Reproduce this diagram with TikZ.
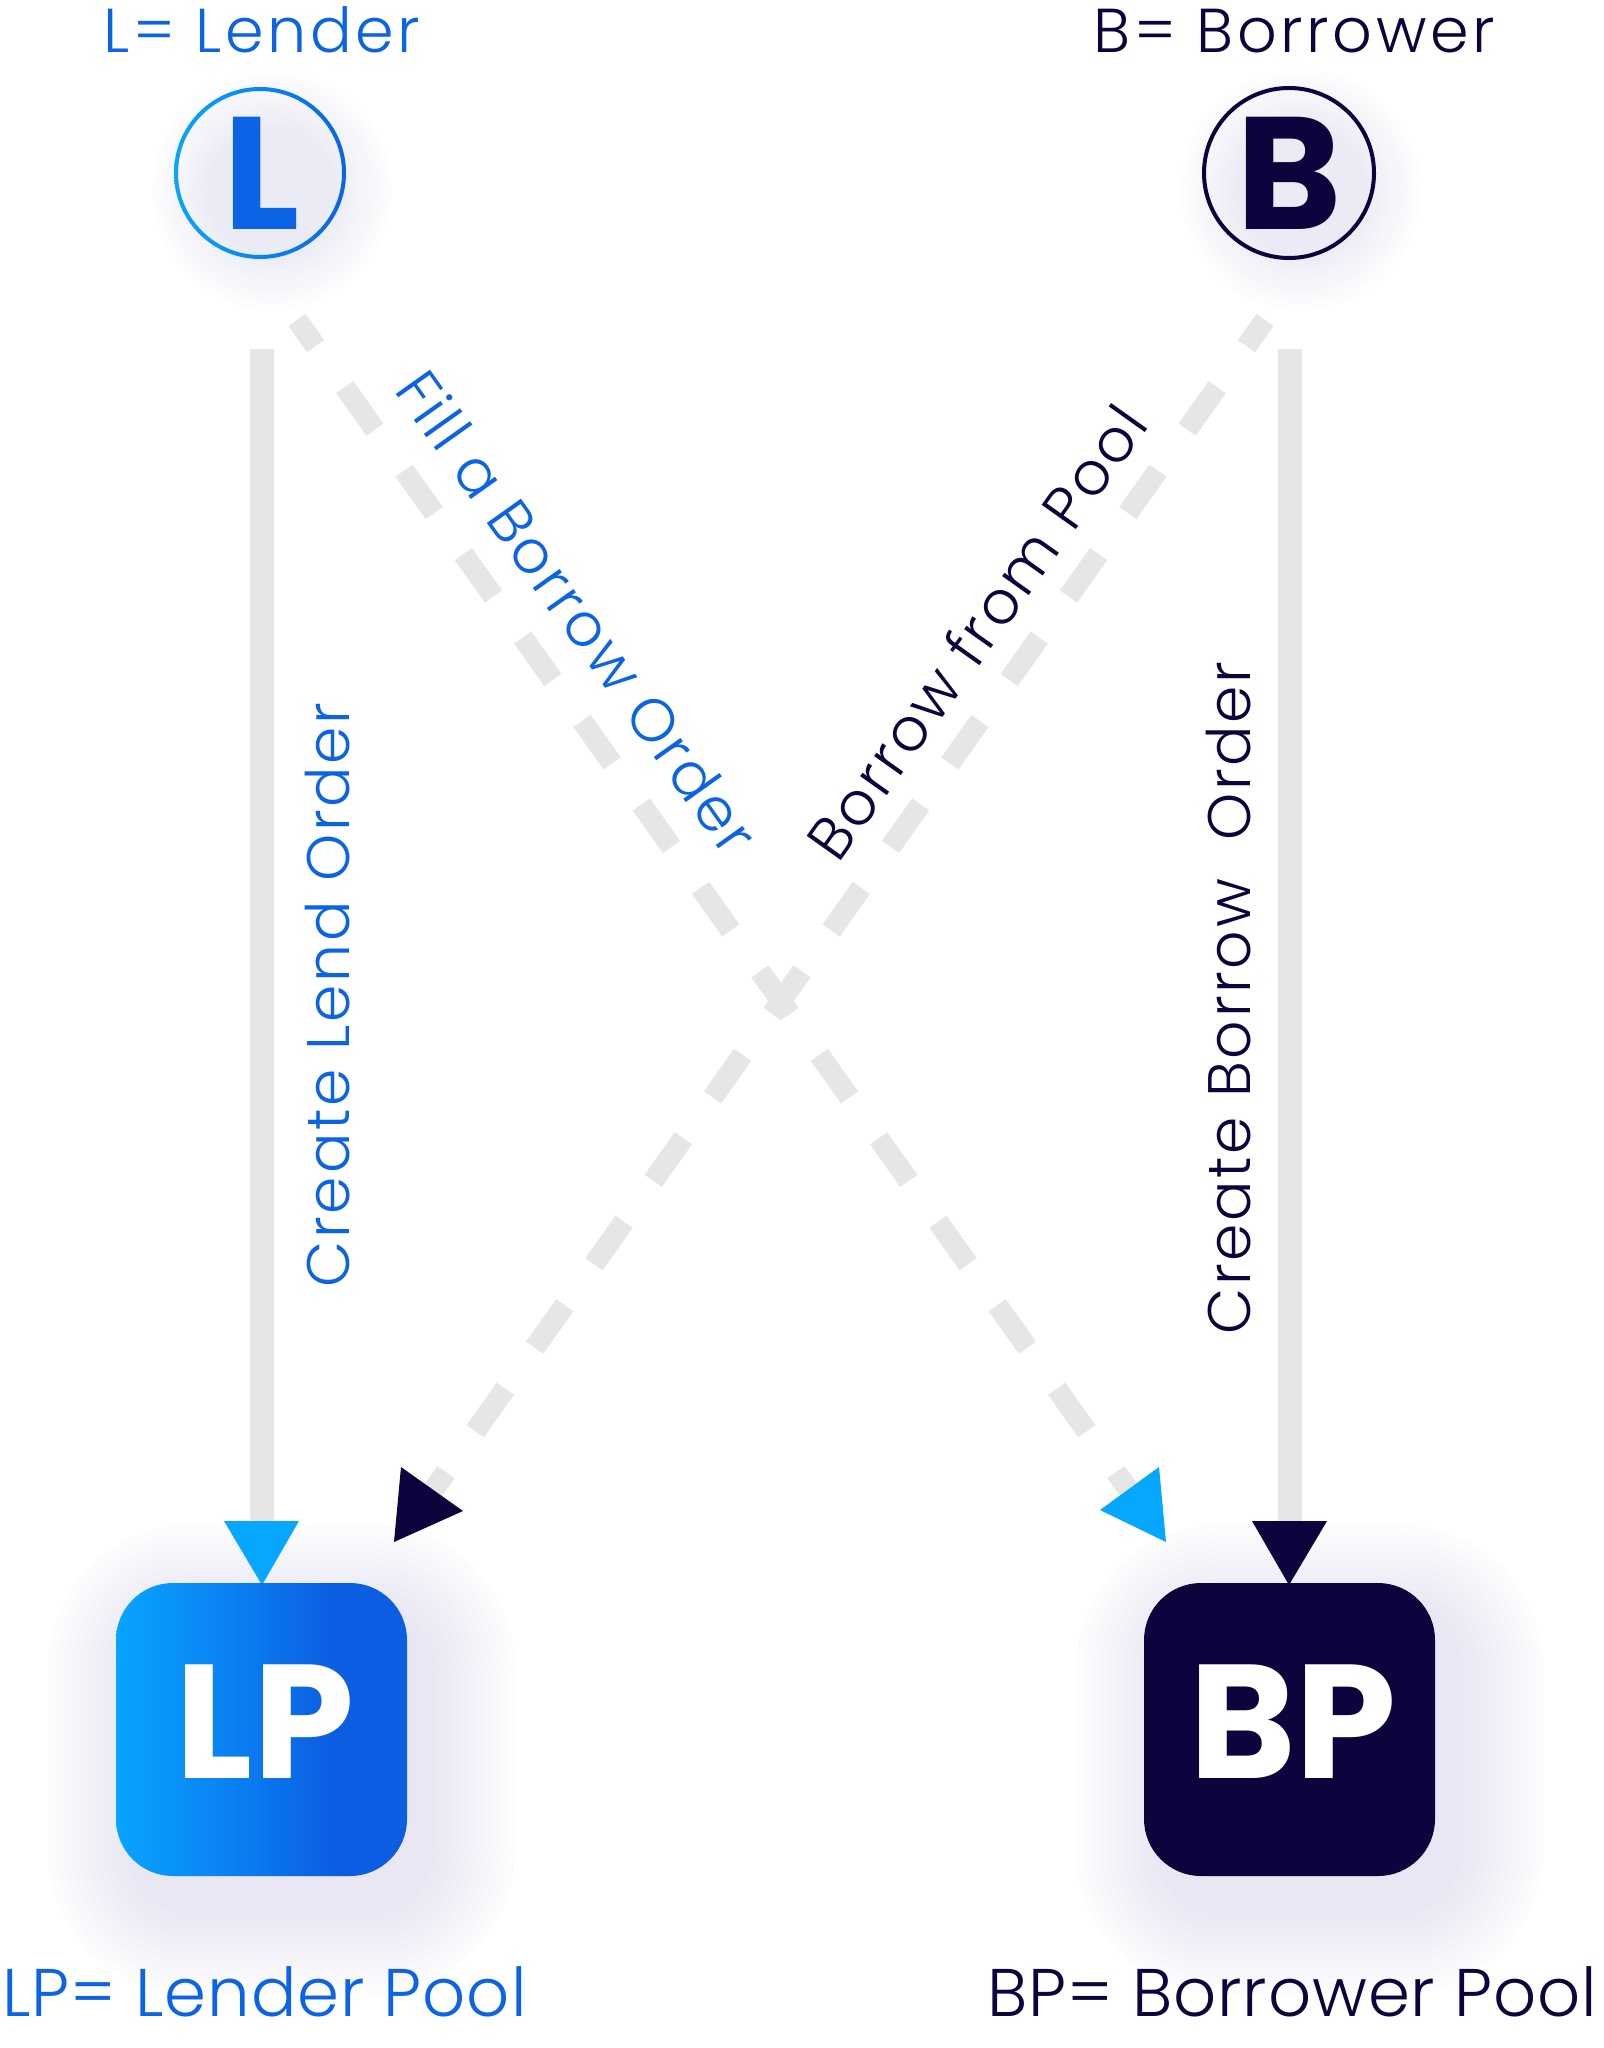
\documentclass[tikz,border=0pt]{standalone}
\usepackage{fontspec}
\setmainfont{Poppins}
\newfontfamily\poplight{Poppins Light}
\usetikzlibrary{calc}
\definecolor{blueT}{RGB}{11,99,229}
\definecolor{lightB}{RGB}{7,166,255}
\definecolor{navy}{RGB}{13,3,61}
\definecolor{greyL}{RGB}{230,230,230}
\definecolor{glowc}{RGB}{190,186,222}
\definecolor{lpA}{RGB}{8,164,255}
\definecolor{lpM}{RGB}{10,128,242}
\definecolor{lpB}{RGB}{11,94,226}
\pgfdeclarehorizontalshading{lpgrad}{100bp}{color(0bp)=(lpA); color(25bp)=(lpA); color(45bp)=(lpM); color(62bp)=(lpB); color(100bp)=(lpB)}
\newcommand\myfs[1]{\fontsize{#1}{#1}\selectfont}
\newcommand\spaced{\addfontfeatures{LetterSpace=4.5}}
\newcommand\spacedtop{\addfontfeatures{LetterSpace=5.8}}
\newcommand\spacedbot{\addfontfeatures{LetterSpace=1.3}}
\begin{document}
\begin{tikzpicture}[x=0.5pt,y=-0.5pt,
  vline/.style={draw=greyL, line width=12pt},
  dline/.style={draw=greyL, line width=10.5pt, dash pattern=on 26pt off 25.2pt, dash phase=10pt},
  lbl/.style={inner sep=0pt, font=\poplight\myfs{30}\spaced},
  legend/.style={inner sep=0pt, anchor=base west},
  pool/.style={minimum width=145.5pt, minimum height=146.5pt, rounded corners=28.5pt, inner sep=0pt},
  ring/.style={circle, minimum size=85pt, inner sep=0pt, font=\myfs{80}\bfseries}
]
\useasboundingbox (0,0) rectangle (1604,2048);
\fill[white] (0,0) rectangle (1604,2048);

% glows
\foreach \i in {1,...,10}{
  \fill[glowc, opacity=0.025] (272,190) circle ({60+6*\i});
  \fill[glowc, opacity=0.025] (1301,190) circle ({60+6*\i});
}
\foreach \i in {1,...,11}{
  \fill[glowc, opacity=0.03, rounded corners={(28+4*\i)*1pt}] ({136-8*\i},{1613-8*\i}) rectangle ({427+8*\i},{1906+8*\i});
  \fill[glowc, opacity=0.03, rounded corners={(28+4*\i)*1pt}] ({1164-8*\i},{1613-8*\i}) rectangle ({1455+8*\i},{1906+8*\i});
}

% legends
\node[legend, text=blueT, font=\poplight\myfs{31}\spacedtop] (tL) at (103,53) {L= Lender};
\node[legend, text=navy, font=\poplight\myfs{31}\spacedtop] (tB) at (1093,53) {B= Borrower};
\node[legend, text=blueT, font=\poplight\myfs{33.7}\spacedbot] (tLP) at (2,2016) {LP= Lender Pool};
\node[legend, text=navy, font=\poplight\myfs{33.7}\spacedbot] (tBP) at (987,2016) {BP= Borrower Pool};

% connector ends
\coordinate (Ltop) at (262,349);  \coordinate (Lend) at (262,1522);
\coordinate (Btop) at (1290,349); \coordinate (Bend) at (1290,1522);
\coordinate (Fs) at (297,320);    \coordinate (Fe) at (1130,1492);
\coordinate (Gs) at (1265,320);   \coordinate (Ge) at (432,1492);

% connectors
\draw[vline] (Ltop) -- (Lend);
\draw[vline] (Btop) -- (Bend);
\draw[dline] (Fs) -- (Fe);
\draw[dline] (Gs) -- (Ge);

% arrowheads
\fill[lightB] (224,1521) -- (299,1521) -- (262,1585) -- cycle;
\fill[navy] (1252,1521) -- (1327,1521) -- (1289,1585) -- cycle;
\fill[navy] (401,1467) -- (463,1511) -- (394,1542) -- cycle;
\fill[lightB] (1159,1467) -- (1100,1510) -- (1166,1542) -- cycle;

% pools
\node[pool, shading=lpgrad, shade] (LP) at (261.5,1729.5) {};
\node[pool, fill=navy] (BP) at (1289.5,1729.5) {};
\node[inner sep=0pt, anchor=base, text=white, font=\myfs{81}\bfseries] (LPt) at (265,1778) {LP};
\node[inner sep=0pt, anchor=base, text=white, font=\myfs{81}\bfseries] (BPt) at (1293,1778) {BP};

% circles
\shade[left color=lightB, right color=blueT, even odd rule] (260,173) circle (86) (260,173) circle (82);
\node[ring, text=blueT] (L) at (262,173) {L};
\node[ring, draw=navy, line width=2pt, text=navy] (B) at (1289,173) {B};

% labels
\node[lbl, text=blueT, rotate=90, anchor=base] (cl) at (349,995) {Create Lend Order};
\node[lbl, text=navy, rotate=90, anchor=base] (cb) at (1250,998) {Create Borrow\ \ Order};
\node[lbl, text=blueT, rotate=-54.6] (fb) at (578,612) {Fill a Borrow Order};
\node[lbl, text=navy, rotate=54.6] (bp) at (976,632) {Borrow from Pool};
\end{tikzpicture}
\end{document}
